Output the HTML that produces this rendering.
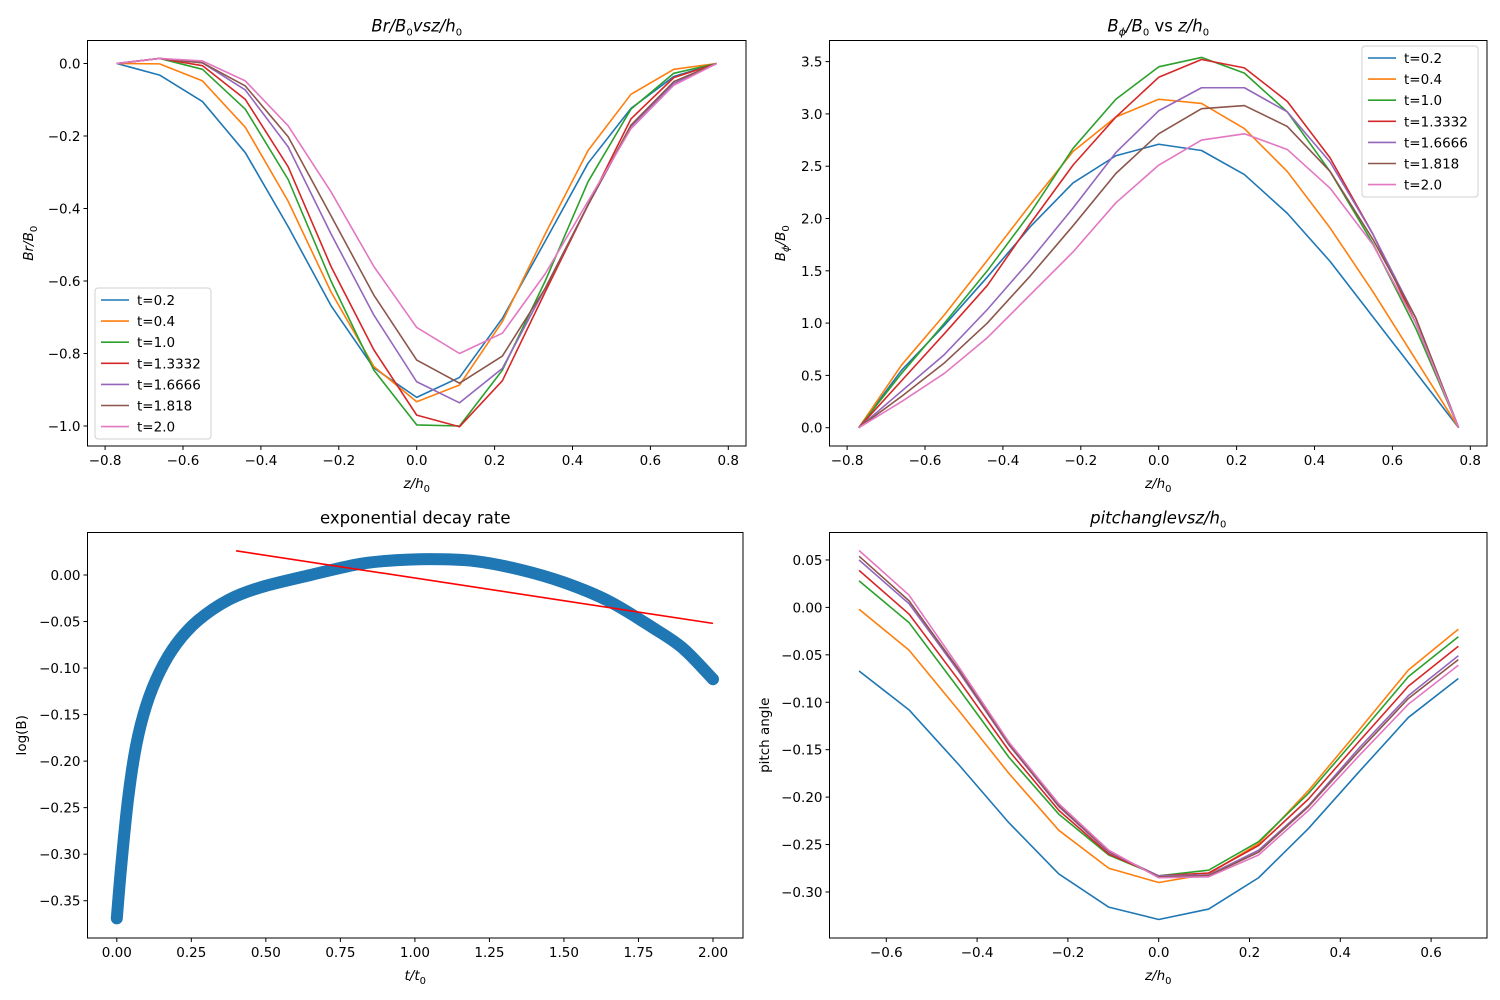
<!DOCTYPE html>
<html><head><meta charset="utf-8"><style>
html,body{margin:0;padding:0;background:#fff}
svg{display:block;font-family:"DejaVu Sans","Liberation Sans",sans-serif}
</style></head><body>
<svg id="fig" width="1500" height="1000" viewBox="0 0 1500 1000" xmlns="http://www.w3.org/2000/svg"></svg>
<script>
const colors=['#1f77b4','#ff7f0e','#2ca02c','#d62728','#9467bd','#8c564b','#e377c2'];
const seriesLabels=['t=0.2','t=0.4','t=1.0','t=1.3332','t=1.6666','t=1.818','t=2.0'];
const zFull=[-0.77,-0.66,-0.55,-0.44,-0.33,-0.22,-0.11,0,0.11,0.22,0.33,0.44,0.55,0.66,0.77];
const zPitch=[-0.66,-0.55,-0.44,-0.33,-0.22,-0.11,0,0.11,0.22,0.33,0.44,0.55,0.66];
const brT02=[0,-0.032,-0.105,-0.246,-0.45,-0.668,-0.84,-0.921,-0.866,-0.703,-0.49,-0.275,-0.124,-0.036,0];
const brT04=[0,-0.001,-0.048,-0.176,-0.38,-0.63,-0.836,-0.933,-0.887,-0.712,-0.47,-0.24,-0.085,-0.016,0];
const brT10=[0,0.014,-0.016,-0.126,-0.32,-0.6,-0.846,-0.997,-1.0,-0.846,-0.6,-0.326,-0.126,-0.027,0];
const brT13=[0,0.014,-0.006,-0.099,-0.285,-0.56,-0.79,-0.97,-1.002,-0.875,-0.63,-0.39,-0.153,-0.039,0];
const brT16=[0,0.014,0.002,-0.073,-0.23,-0.47,-0.694,-0.878,-0.936,-0.841,-0.62,-0.39,-0.174,-0.055,0];
const brT18=[0,0.014,0.002,-0.062,-0.202,-0.42,-0.639,-0.818,-0.882,-0.807,-0.62,-0.39,-0.17,-0.05,0];
const brT20=[0,0.014,0.007,-0.048,-0.172,-0.354,-0.56,-0.728,-0.8,-0.744,-0.58,-0.38,-0.18,-0.06,0];
const bpT02=[0,0.55,0.98,1.44,1.92,2.34,2.60,2.71,2.65,2.42,2.05,1.59,1.06,0.53,0];
const bpT04=[0,0.6,1.08,1.60,2.13,2.64,2.97,3.14,3.10,2.86,2.45,1.91,1.3,0.65,0];
const bpT10=[0,0.52,1.0,1.5,2.05,2.67,3.14,3.45,3.54,3.39,3.02,2.45,1.76,0.95,0];
const bpT13=[0,0.45,0.9,1.36,1.95,2.51,2.97,3.35,3.52,3.44,3.12,2.58,1.85,1.0,0];
const bpT16=[0,0.35,0.7,1.13,1.6,2.1,2.63,3.03,3.25,3.25,3.02,2.54,1.85,1.05,0];
const bpT18=[0,0.3,0.62,1.0,1.45,1.93,2.43,2.81,3.05,3.08,2.88,2.45,1.8,1.05,0];
const bpT20=[0,0.25,0.52,0.86,1.27,1.68,2.15,2.51,2.75,2.81,2.66,2.29,1.75,1.0,0];
const paT02=[-0.067,-0.108,-0.166,-0.227,-0.281,-0.316,-0.329,-0.318,-0.285,-0.233,-0.174,-0.116,-0.075];
const paT04=[-0.002,-0.045,-0.109,-0.175,-0.235,-0.275,-0.29,-0.281,-0.249,-0.193,-0.13,-0.066,-0.023];
const paT10=[0.028,-0.016,-0.086,-0.158,-0.218,-0.261,-0.283,-0.277,-0.247,-0.196,-0.135,-0.073,-0.031];
const paT13=[0.039,-0.007,-0.077,-0.151,-0.214,-0.26,-0.283,-0.28,-0.251,-0.202,-0.142,-0.083,-0.041];
const paT16=[0.05,0.004,-0.068,-0.145,-0.21,-0.258,-0.283,-0.282,-0.256,-0.209,-0.149,-0.093,-0.051];
const paT18=[0.054,0.007,-0.066,-0.144,-0.209,-0.257,-0.284,-0.283,-0.258,-0.21,-0.152,-0.096,-0.055];
const paT20=[0.06,0.013,-0.063,-0.142,-0.207,-0.256,-0.285,-0.284,-0.261,-0.214,-0.157,-0.102,-0.061];
const decayT=[0,0.015,0.038,0.065,0.099,0.144,0.2,0.272,0.373,0.485,0.65,0.8,0.9,1.05,1.2,1.35,1.5,1.65,1.8,1.9,2.0];
const decayLogB=[-0.369,-0.312,-0.24,-0.183,-0.14,-0.104,-0.074,-0.049,-0.027,-0.013,0.0,0.011,0.015,0.017,0.015,0.006,-0.008,-0.028,-0.057,-0.079,-0.112];
const fitT=[0.4,2.0];
const fitLogB=[0.026,-0.052];
const tlXTicks=[-0.8,-0.6,-0.4,-0.2,0,0.2,0.4,0.6,0.8];
const tlYTicks=[0,-0.2,-0.4,-0.6,-0.8,-1.0];
const trYTicks=[0,0.5,1,1.5,2,2.5,3,3.5];
const blXTicks=[0,0.25,0.5,0.75,1,1.25,1.5,1.75,2];
const blYTicks=[0,-0.05,-0.1,-0.15,-0.2,-0.25,-0.3,-0.35];
const brXTicks=[-0.6,-0.4,-0.2,0,0.2,0.4,0.6];
const brYTicks=[0.05,0,-0.05,-0.1,-0.15,-0.2,-0.25,-0.3];

const NS='http://www.w3.org/2000/svg';
const svg=document.getElementById('fig');
function el(tag,attrs,parent,text){const e=document.createElementNS(NS,tag);for(const k in attrs)e.setAttribute(k,attrs[k]);if(text!==undefined)e.textContent=text;(parent||svg).appendChild(e);return e;}
function fmt(v,d){const s=Math.abs(v).toFixed(d);return (v<-1e-9?'\u2212':'')+s;}
function makeAxes(name,box,x0,xs,y0,ys){
  const g=el('g',{});
  
  
  return {g,box,x:v=>x0+xs*v,y:v=>y0-ys*v};
}
function frame(ax){
  const b=ax.box;
  const r=el('rect',{x:b[0],y:b[1],width:b[2]-b[0],height:b[3]-b[1],fill:'none',stroke:'#000','stroke-width':1},ax.g);
  
  
}
function ticks(ax,xt,yt,xd,yd){
  const b=ax.box;
  const gx=el('g',{},ax.g);
  
  
  xt.forEach(v=>{const px=ax.x(v);el('line',{x1:px,x2:px,y1:b[3],y2:b[3]+4,stroke:'#000'},gx);
    const t=el('text',{x:px,y:b[3]+19,'text-anchor':'middle','font-size':13.5},gx,fmt(v,xd));
    
    });
  const gy=el('g',{},ax.g);
  
  
  yt.forEach(v=>{const py=ax.y(v);el('line',{x1:b[0]-4,x2:b[0],y1:py,y2:py,stroke:'#000'},gy);
    const t=el('text',{x:b[0]-7,y:py+5,'text-anchor':'end','font-size':13.5},gy,fmt(v,yd));
    
    });
}
function line(ax,xs,ys,color,name,w){
  const p=el('polyline',{points:xs.map((x,i)=>ax.x(x)+','+ax.y(ys[i])).join(' '),fill:'none',stroke:color,'stroke-width':w||1.6,'stroke-linejoin':'round'},ax.g);
  
  
  return p;
}
function smoothPath(ax,xs,ys){
  const P=xs.map((x,i)=>[ax.x(x),ax.y(ys[i])]);
  let d='M'+P[0][0]+','+P[0][1];
  for(let i=0;i<P.length-1;i++){
    const p0=P[Math.max(0,i-1)],p1=P[i],p2=P[i+1],p3=P[Math.min(P.length-1,i+2)];
    const c1=[p1[0]+(p2[0]-p0[0])/6,p1[1]+(p2[1]-p0[1])/6];
    const c2=[p2[0]-(p3[0]-p1[0])/6,p2[1]-(p3[1]-p1[1])/6];
    d+=` C${c1[0]},${c1[1]} ${c2[0]},${c2[1]} ${p2[0]},${p2[1]}`;
  }
  return d;
}
function title(ax,html,name){
  const b=ax.box;
  const t=el('text',{x:(b[0]+b[2])/2,y:b[1]-9,'text-anchor':'middle','font-size':16.5},ax.g);
  t.innerHTML=html;
  
  
}
function xlabel(ax,html){
  const b=ax.box;
  const t=el('text',{x:(b[0]+b[2])/2,y:b[3]+42,'text-anchor':'middle','font-size':13.5},ax.g);
  t.innerHTML=html;
  
  
}
function ylabel(ax,html,xpos){
  const b=ax.box;const cy=(b[1]+b[3])/2;
  const t=el('text',{x:xpos,y:cy,'text-anchor':'middle','font-size':13.5,transform:`rotate(-90 ${xpos} ${cy})`},ax.g);
  t.innerHTML=html;
  
  
}
function legend(ax,lx,ly){
  const g=el('g',{},ax.g);
  
  
  el('rect',{x:lx,y:ly,width:116,height:151,rx:3,fill:'#fff','fill-opacity':0.8,stroke:'#d0d0d0'},g);
  seriesLabels.forEach((s,i)=>{const yy=ly+12+i*21.1;
    const e=el('g',{},g);
    
    
    el('line',{x1:lx+6,x2:lx+34,y1:yy,y2:yy,stroke:colors[i],'stroke-width':1.6},e);
    el('text',{x:lx+42,y:yy+5,'font-size':13.5},e,s);});
}
const sub='<tspan font-size="10" dy="4">0</tspan>';
// Top-left
const tl=makeAxes('br-panel',[87.5,40.5,746,446],416.7,389.5,63.5,362.5);
svg.appendChild(tl.g);
[brT02,brT04,brT10,brT13,brT16,brT18,brT20].forEach((s,i)=>line(tl,zFull,s,colors[i],'br-line-'+seriesLabels[i]));
frame(tl);ticks(tl,tlXTicks,tlYTicks,1,1);
title(tl,'<tspan font-style="italic">Br/B</tspan>'+sub+'<tspan dy="-4" font-style="italic">vsz/h</tspan>'+sub,'br-title');
xlabel(tl,'<tspan font-style="italic">z/h</tspan>'+sub);
ylabel(tl,'<tspan font-style="italic">Br/B</tspan>'+sub,33);
legend(tl,95,288);
// Top-right
const tr=makeAxes('bphi-panel',[829.5,40.5,1487,446],1158.7,389.5,427.7,104.6);
svg.appendChild(tr.g);
[bpT02,bpT04,bpT10,bpT13,bpT16,bpT18,bpT20].forEach((s,i)=>line(tr,zFull,s,colors[i],'bphi-line-'+seriesLabels[i]));
frame(tr);ticks(tr,tlXTicks,trYTicks,1,1);
title(tr,'<tspan font-style="italic">B</tspan><tspan font-size="11" dy="4" font-style="italic">ϕ</tspan><tspan dy="-4" font-style="italic">/B</tspan>'+sub+'<tspan dy="-4"> vs </tspan><tspan font-style="italic">z/h</tspan>'+sub,'bphi-title');
xlabel(tr,'<tspan font-style="italic">z/h</tspan>'+sub);
ylabel(tr,'<tspan font-style="italic">B</tspan><tspan font-size="10" dy="4" font-style="italic">ϕ</tspan><tspan dy="-4" font-style="italic">/B</tspan>'+sub,785);
legend(tr,1362,46);
// Bottom-left
const bl=makeAxes('decay-panel',[87.5,532.5,743,938],116.8,298.1,575,930.6);
svg.appendChild(bl.g);
const band=el('path',{d:smoothPath(bl,decayT,decayLogB),fill:'none',stroke:'#1f77b4','stroke-width':12,'stroke-linecap':'round','stroke-linejoin':'round'},bl.g);


line(bl,fitT,fitLogB,'#ff0000','fit-line',1.6);
frame(bl);ticks(bl,blXTicks,blYTicks,2,2);
title(bl,'exponential decay rate','decay-title');
xlabel(bl,'<tspan font-style="italic">t/t</tspan>'+sub);
ylabel(bl,'log(B)',26);
// Bottom-right
const brp=makeAxes('pitch-panel',[829.5,532.5,1487,938],1158.7,454,607.4,948.6);
svg.appendChild(brp.g);
[paT02,paT04,paT10,paT13,paT16,paT18,paT20].forEach((s,i)=>line(brp,zPitch,s,colors[i],'pitch-line-'+seriesLabels[i]));
frame(brp);ticks(brp,brXTicks,brYTicks,1,2);
title(brp,'<tspan font-style="italic">pitchanglevsz/h</tspan>'+sub,'pitch-title');
xlabel(brp,'<tspan font-style="italic">z/h</tspan>'+sub);
ylabel(brp,'pitch angle',769);
</script>
</body></html>
